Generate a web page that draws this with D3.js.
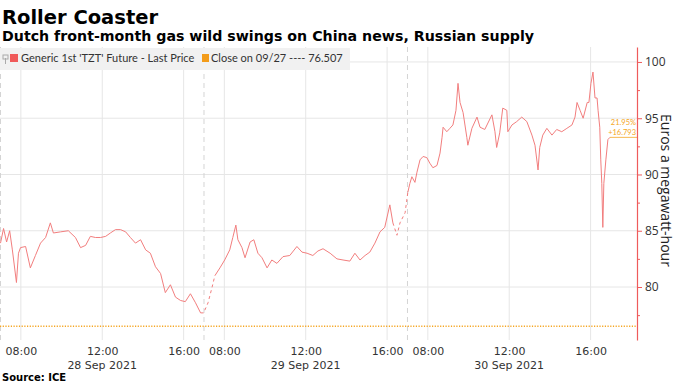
<!DOCTYPE html>
<html>
<head>
<meta charset="utf-8">
<script src="https://cdn.jsdelivr.net/npm/d3@7"></script>
<style>
  body { margin: 0; background: #fff; }
  svg { display: block; font-family: "DejaVu Sans", Verdana, sans-serif; }
</style>
</head>
<body>
<script>
// session dates and intraday prices (EUR/MWh)
const dayLabels = ['28 Sep 2021', '29 Sep 2021', '30 Sep 2021'];
const hourTicks = ['08:00', '12:00', '16:00'];
const yTicks = [80, 85, 90, 95, 100];
const yMinorTicks = [77.5, 82.5, 87.5, 92.5, 97.5];

const sep28Times = ['07:00','07:09','07:18','07:27','07:35','07:47','07:53','07:59','08:14','08:28','08:43','08:58','09:13','09:27','09:36','09:57','10:20','10:41','10:56','11:11','11:25','11:40','11:55','12:10','12:24','12:39','12:54','13:09','13:23','13:38','13:53','14:08','14:22','14:37','14:52','15:06','15:21','15:36','15:51','16:05','16:20','16:35','16:50','16:59'];
const sep28Prices = [83.9,85.2,84.0,85.0,83.3,80.4,83.0,83.5,83.6,81.7,82.8,83.9,84.4,85.7,84.8,84.9,85.0,84.4,83.5,83.7,84.5,84.4,84.4,84.5,84.8,85.1,85.1,84.9,84.4,83.9,84.2,83.3,83.0,81.8,81.2,79.5,80.2,79.1,78.8,78.7,79.4,78.6,77.7,77.7];

const sep29Times = ['07:12','07:24','07:32','07:47','08:01','08:16','08:25','08:34','08:40','08:52','09:01','09:16','09:27','09:39','09:51','10:06','10:20','10:35','10:53','11:13','11:34','11:49','12:04','12:21','12:36','12:51','13:12','13:32','13:50','14:10','14:25','14:40','14:55','15:09','15:24','15:39','15:53','16:08','16:17','16:29','16:38','16:53'];
const sep29Prices = [78.6,80.0,81.0,81.7,82.4,83.3,84.4,85.5,84.2,83.5,82.6,84.0,84.2,83.0,82.6,81.7,82.4,82.1,82.7,82.8,83.6,83.1,83.0,82.8,83.2,83.4,83.0,82.5,82.4,82.3,83.0,82.4,82.8,83.1,83.9,84.9,85.3,87.3,85.7,84.6,85.7,86.6];

const sep30Times = ['07:01','07:07','07:13','07:22','07:28','07:37','07:46','07:57','08:06','08:15','08:27','08:36','08:42','08:45','08:56','09:05','09:14','09:23','09:29','09:35','09:44','09:55','09:58','10:10','10:25','10:34','10:48','11:09','11:18','11:23','11:32','11:41','11:53','11:56','12:08','12:22','12:37','12:52','13:07','13:16','13:25','13:30','13:39','13:51','14:06','14:20','14:35','14:50','15:05','15:14','15:20','15:29','15:38','15:50','15:55','16:01','16:07','16:13','16:19','16:22','16:27','16:30','16:33','16:36','16:39','16:45','16:51','16:57'];
const sep30Prices = [88.4,89.2,89.8,89.3,90.2,91.3,91.6,91.5,91.0,90.6,90.8,91.9,93.3,94.2,93.8,94.1,94.4,95.7,98.1,96.4,95.5,93.3,92.6,94.1,95.1,94.2,94.0,95.3,93.8,92.4,93.7,95.9,95.7,93.8,94.4,94.7,95.1,94.7,93.5,92.6,90.4,92.4,93.5,94.1,93.5,94.0,93.8,94.1,94.4,95.1,96.4,95.7,95.0,96.4,96.4,98.1,99.1,96.8,96.8,95.7,94.2,91.3,89.2,85.3,89.2,91.3,93.1,93.3];

// thin-trading stretches drawn dashed: [day, time] -> [day, time]
const sparseStart = [[0, '16:50'], [1, '16:17']];
const sparseEnd = [[1, '07:32'], [2, '07:01']];

const prevClose = 76.507;
const changePct = '21.95%';
const changeAbs = '+16.793';

const W = 683, H = 384;
const OPEN = 7, SESSION = 10; // trading day 07:00 - 17:00

function tradeHours(day, hm) {
  const [h, m] = hm.split(':').map(Number);
  return day * SESSION + (h + m / 60 - OPEN);
}

const series = [];
[[sep28Times, sep28Prices], [sep29Times, sep29Prices], [sep30Times, sep30Prices]].forEach(([ts, ps], day) => {
  ts.forEach((t, i) => series.push({ t: tradeHours(day, t), v: ps[i] }));
});
const gaps = sparseStart.map((s, i) => [tradeHours(s[0], s[1]), tradeHours(sparseEnd[i][0], sparseEnd[i][1])]);
const inGap = t => gaps.some(g => t > g[0] && t < g[1]);
const onGap = t => gaps.some(g => t >= g[0] && t <= g[1]);

const svg = d3.select('body').append('svg')
  .attr('width', W)
  .attr('height', H);

const plotTop = 47, plotBottom = 340, plotRight = 637;

const x = d3.scaleLinear().domain([0, 31.28]).range([0.5, plotRight]);
const y = d3.scaleLinear().domain([75.29, 101.33]).range([plotBottom, plotTop]);

// titles
svg.append('text')
  .attr('x', 2).attr('y', 24)
  .attr('font-size', 19.5).attr('font-weight', 'bold')
  .text('Roller Coaster');
svg.append('text')
  .attr('x', 2).attr('y', 41)
  .attr('font-size', 14.2).attr('font-weight', 'bold')
  .text('Dutch front-month gas wild swings on China news, Russian supply');

// horizontal grid
svg.append('g').selectAll('line')
  .data(yTicks).enter().append('line')
  .attr('x1', 0).attr('x2', plotRight)
  .attr('y1', d => y(d)).attr('y2', d => y(d))
  .attr('stroke', '#e6e6e6').attr('stroke-width', 1);

// vertical grid at hour ticks
const xTickVals = [];
dayLabels.forEach((d, i) => hourTicks.forEach(h => xTickVals.push(tradeHours(i, h))));
svg.append('g').selectAll('line')
  .data(xTickVals).enter().append('line')
  .attr('x1', d => x(d)).attr('x2', d => x(d))
  .attr('y1', plotTop).attr('y2', plotBottom)
  .attr('stroke', '#e6e6e6').attr('stroke-width', 1);

// day boundaries
svg.append('g').selectAll('line')
  .data(dayLabels.map((d, i) => i * SESSION)).enter().append('line')
  .attr('x1', d => x(d)).attr('x2', d => x(d))
  .attr('y1', plotTop).attr('y2', plotBottom)
  .attr('stroke', '#d4d4d4').attr('stroke-width', 1)
  .attr('stroke-dasharray', '5 4');

// legend band
svg.append('rect')
  .attr('x', 0).attr('y', 48).attr('width', 350).attr('height', 22)
  .attr('fill', '#f1f1f1');
const legend = svg.append('g').attr('font-family', 'Lato, sans-serif').attr('font-size', 11).attr('fill', '#333');
legend.append('line').attr('x1', 5.5).attr('x2', 5.5).attr('y1', 58).attr('y2', 64).attr('stroke', '#aaa');
legend.append('rect').attr('x', 3).attr('y', 55).attr('width', 5).attr('height', 4).attr('fill', 'none').attr('stroke', '#aaa');
legend.append('rect').attr('x', 10).attr('y', 54).attr('width', 8).attr('height', 8).attr('fill', '#f05a5a');
legend.append('text').attr('x', 21).attr('y', 62).text("Generic 1st 'TZT' Future - Last Price");
legend.append('rect').attr('x', 202).attr('y', 54).attr('width', 7).attr('height', 8).attr('fill', '#f39c1a');
legend.append('text').attr('x', 211).attr('y', 62).text('Close on 09/27 ---- ' + prevClose.toFixed(3));

// previous close
svg.append('line')
  .attr('x1', 0).attr('x2', plotRight)
  .attr('y1', y(prevClose)).attr('y2', y(prevClose))
  .attr('stroke', '#f5a623').attr('stroke-width', 1.5)
  .attr('stroke-dasharray', '1.2 1.5');

// price line
const line = d3.line().x(d => x(d.t)).y(d => y(d.v));
svg.append('path')
  .datum(series)
  .attr('d', line.defined(d => !inGap(d.t)))
  .attr('fill', 'none')
  .attr('stroke', '#f27e7e')
  .attr('stroke-width', 1)
  .attr('stroke-linejoin', 'round');
svg.append('path')
  .datum(series)
  .attr('d', d3.line().x(d => x(d.t)).y(d => y(d.v)).defined(d => onGap(d.t)))
  .attr('fill', 'none')
  .attr('stroke', '#f27e7e')
  .attr('stroke-width', 1)
  .attr('stroke-dasharray', '3 3');

// last price marker
const last = series[series.length - 1];
svg.append('line')
  .attr('x1', x(last.t)).attr('x2', plotRight)
  .attr('y1', y(last.v)).attr('y2', y(last.v))
  .attr('stroke', '#f5a623').attr('stroke-width', 0.8);
svg.append('g')
  .attr('font-family', 'Lato, sans-serif').attr('font-size', 7.5)
  .attr('fill', '#f5a623').attr('text-anchor', 'end')
  .selectAll('text').data([changePct, changeAbs]).enter().append('text')
  .attr('x', plotRight - 1)
  .attr('y', (d, i) => y(last.v) - 12 + i * 10)
  .text(d => d);

// right axis
const yAxis = svg.append('g')
  .attr('transform', `translate(${plotRight},0)`)
  .call(d3.axisRight(y).tickValues(yTicks).tickSize(5).tickSizeOuter(0).tickPadding(3));
yAxis.select('.domain').attr('stroke', '#ef5b5b').attr('stroke-width', 1.2);
yAxis.selectAll('.tick line').attr('stroke', '#ef5b5b');
yAxis.selectAll('.tick text')
  .attr('font-family', '"Open Sans", sans-serif').attr('font-size', 12).attr('fill', '#333');
svg.append('g')
  .attr('transform', `translate(${plotRight},0)`)
  .call(d3.axisRight(y).tickValues(yMinorTicks).tickSize(3).tickFormat(''))
  .call(g => g.select('.domain').remove())
  .selectAll('.tick line').attr('stroke', '#ef5b5b');

svg.append('text')
  .attr('transform', `translate(661,${(plotTop + plotBottom) / 2 - 3}) rotate(90)`)
  .attr('text-anchor', 'middle')
  .attr('font-family', '"Open Sans", sans-serif')
  .attr('font-size', 14).attr('fill', '#222')
  .text('Euros a megawatt-hour');

// bottom axis
const xAxis = svg.append('g')
  .attr('transform', `translate(0,${plotBottom})`)
  .call(d3.axisBottom(x).tickValues(xTickVals).tickFormat((d, i) => hourTicks[i % 3]).tickSize(0).tickPadding(7));
xAxis.select('.domain').remove();
xAxis.selectAll('.tick text')
  .attr('font-family', '"DejaVu Sans", sans-serif').attr('font-size', 11).attr('fill', '#333');

svg.append('g').selectAll('text')
  .data(dayLabels).enter().append('text')
  .attr('x', (d, i) => x(tradeHours(i, '12:00')))
  .attr('y', 369)
  .attr('text-anchor', 'middle')
  .attr('font-size', 11).attr('fill', '#333')
  .text(d => d);

svg.append('text')
  .attr('x', 2).attr('y', 381)
  .attr('font-size', 10).attr('font-weight', 'bold')
  .text('Source: ICE');
</script>
</body>
</html>
